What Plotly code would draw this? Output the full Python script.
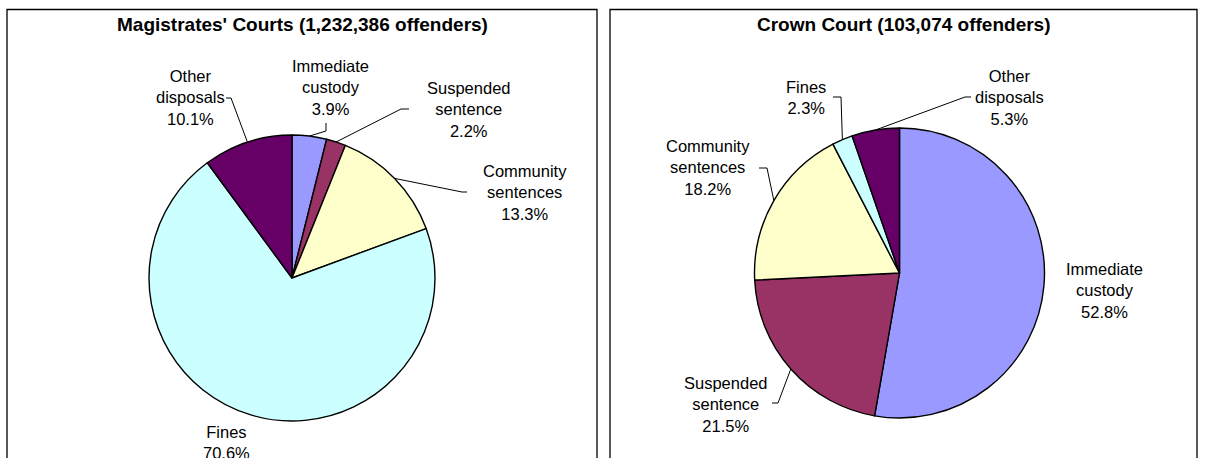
import math
import plotly.graph_objects as go

W, H = 1205, 458

# ---- data ----
categories = ["Immediate custody", "Suspended sentence", "Community sentences", "Fines", "Other disposals"]
label_names = ["Immediate<br>custody", "Suspended<br>sentence", "Community<br>sentences", "Fines", "Other<br>disposals"]
magistrates_pct = [3.9, 2.2, 13.3, 70.6, 10.1]
crown_pct = [52.8, 21.5, 18.2, 2.3, 5.3]
titles = ["Magistrates' Courts (1,232,386 offenders)", "Crown Court (103,074 offenders)"]
colors = ["#9999FF", "#993366", "#FFFFCC", "#CCFFFF", "#660066"]

# ---- layout (pixels) ----
panels = [
    dict(values=magistrates_pct, title=titles[0],
         box=(7, 597), center=(292, 278), r=143,
         labels=[(330, 87), (469, 109), (525, 192), (226, 442), (190, 98)],
         leaders=[[(326, 131), (326, 123)],
                  [(401, 109), (409, 109)],
                  [(462, 192), (467, 192)],
                  None,
                  [(231, 98), (226, 98)]]),
    dict(values=crown_pct, title=titles[1],
         box=(610, 1197), center=(899.5, 273), r=145,
         labels=[(1104, 290), (726, 404), (708, 167), (806, 97), (1009, 97)],
         leaders=[None,
                  [(778, 403), (772, 403)],
                  [(767, 168), (759, 168)],
                  [(841, 97), (833, 97)],
                  [(965, 97), (971, 97)]]),
]

FONT = "Liberation Sans, Arial, sans-serif"


def px(x, y):
    return x / W, 1 - y / H


fig = go.Figure()
shapes = []
annotations = []

for p in panels:
    cx, cy = p["center"]
    r = p["r"]
    fig.add_trace(go.Pie(
        labels=categories, values=p["values"], sort=False, direction="clockwise",
        rotation=0, textinfo="none", hoverinfo="label+percent",
        marker=dict(colors=colors, line=dict(color="black", width=1.4)),
        domain=dict(x=[(cx - r) / W, (cx + r) / W], y=[1 - (cy + r) / H, 1 - (cy - r) / H]),
        showlegend=False,
    ))
    # box
    x0, x1 = p["box"]
    shapes.append(dict(type="rect", xref="paper", yref="paper",
                       x0=x0 / W, x1=x1 / W, y0=-0.1, y1=1 - 9.5 / H,
                       line=dict(color="black", width=1.3), fillcolor="rgba(0,0,0,0)"))
    # title
    annotations.append(dict(text="<b>" + p["title"] + "</b>", x=((x0 + x1) / 2) / W, y=1 - 24 / H,
                            xref="paper", yref="paper", showarrow=False,
                            xanchor="center", yanchor="middle",
                            font=dict(family=FONT, size=19, color="black")))
    total = sum(p["values"])
    cum = 0.0
    for i, v in enumerate(p["values"]):
        mid = (cum + v / 2) / total * 2 * math.pi
        cum += v
        ex, ey = cx + r * math.sin(mid), cy - r * math.cos(mid)
        lx, ly = p["labels"][i]
        annotations.append(dict(text=f"{label_names[i]}<br>{v:.1f}%", x=lx / W, y=1 - ly / H,
                                xref="paper", yref="paper", showarrow=False,
                                xanchor="center", yanchor="middle", align="center",
                                font=dict(family=FONT, size=16.5, color="black")))
        if p["leaders"][i]:
            pts = [(ex, ey)] + p["leaders"][i]
            path = "M " + " L ".join(f"{px(a, b)[0]},{px(a, b)[1]}" for a, b in pts)
            shapes.append(dict(type="path", xref="paper", yref="paper", path=path,
                               line=dict(color="black", width=1)))

fig.update_layout(width=W, height=H, margin=dict(l=0, r=0, t=0, b=0),
                  paper_bgcolor="white", plot_bgcolor="white",
                  shapes=shapes, annotations=annotations)

fig.write_html("out.html", config={"displayModeBar": False},
               post_script="document.body.style.margin='0';document.body.style.overflow='hidden';")
